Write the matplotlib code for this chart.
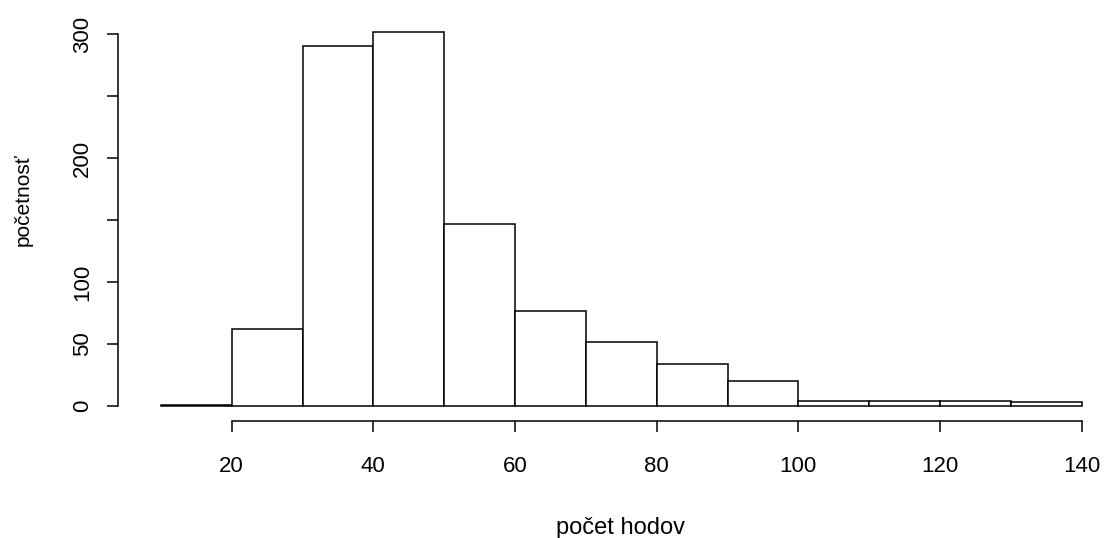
import matplotlib
matplotlib.use("Agg")
import matplotlib.pyplot as plt

bin_edges = [10, 20, 30, 40, 50, 60, 70, 80, 90, 100, 110, 120, 130, 140]
counts = [1, 62, 290, 302, 147, 77, 52, 34, 20, 4, 4, 4, 3]
x_ticks = [20, 40, 60, 80, 100, 120, 140]
y_ticks = [0, 50, 100, 150, 200, 250, 300]
y_tick_labels = ["0", "50", "100", "", "200", "", "300"]
x_label = "počet hodov"
y_label = "početnosť"

plt.rcParams['font.family'] = ['Liberation Sans', 'DejaVu Sans']

W, H = 1105, 538
fig = plt.figure(figsize=(W / 100, H / 100), dpi=100)

xlim = (4.0, 145.2)
ylim = (-12.1, 314.08)
px_per_x = 850 / 120.0
px_per_y = 372 / 300.0
left_px = 231.7 - (20 - xlim[0]) * px_per_x
right_px = 231.7 + (xlim[1] - 20) * px_per_x
bottom_px = 406 + (0 - ylim[0]) * px_per_y
top_px = 34 - (ylim[1] - 300) * px_per_y

ax = fig.add_axes([left_px / W, 1 - bottom_px / H,
                   (right_px - left_px) / W, (bottom_px - top_px) / H])
ax.set_xlim(*xlim)
ax.set_ylim(*ylim)

widths = [bin_edges[i + 1] - bin_edges[i] for i in range(len(counts))]
ax.bar(bin_edges[:-1], counts, width=widths, align='edge',
       facecolor='white', edgecolor='black', linewidth=1.1)

for s in ['top', 'right']:
    ax.spines[s].set_visible(False)
ax.spines['left'].set_bounds(0, 300)
ax.spines['bottom'].set_bounds(20, 140)
for s in ['left', 'bottom']:
    ax.spines[s].set_linewidth(1.1)

ax.set_xticks(x_ticks)
ax.set_xticklabels([str(v) for v in x_ticks], fontsize=16)
ax.set_yticks(y_ticks)
ax.set_yticklabels(y_tick_labels, fontsize=16, rotation=90, va='center')
ax.tick_params(axis='both', direction='out', length=8, width=1.1, color='black')
ax.tick_params(axis='x', pad=17)
ax.tick_params(axis='y', pad=10)

fig.text(620 / W, 1 - 534 / H, x_label, ha='center', va='baseline', fontsize=17)
fig.text(23 / W, 1 - 200 / H, y_label, ha='center', va='center', rotation=90, fontsize=15)

fig.savefig("out.png", dpi=100)
